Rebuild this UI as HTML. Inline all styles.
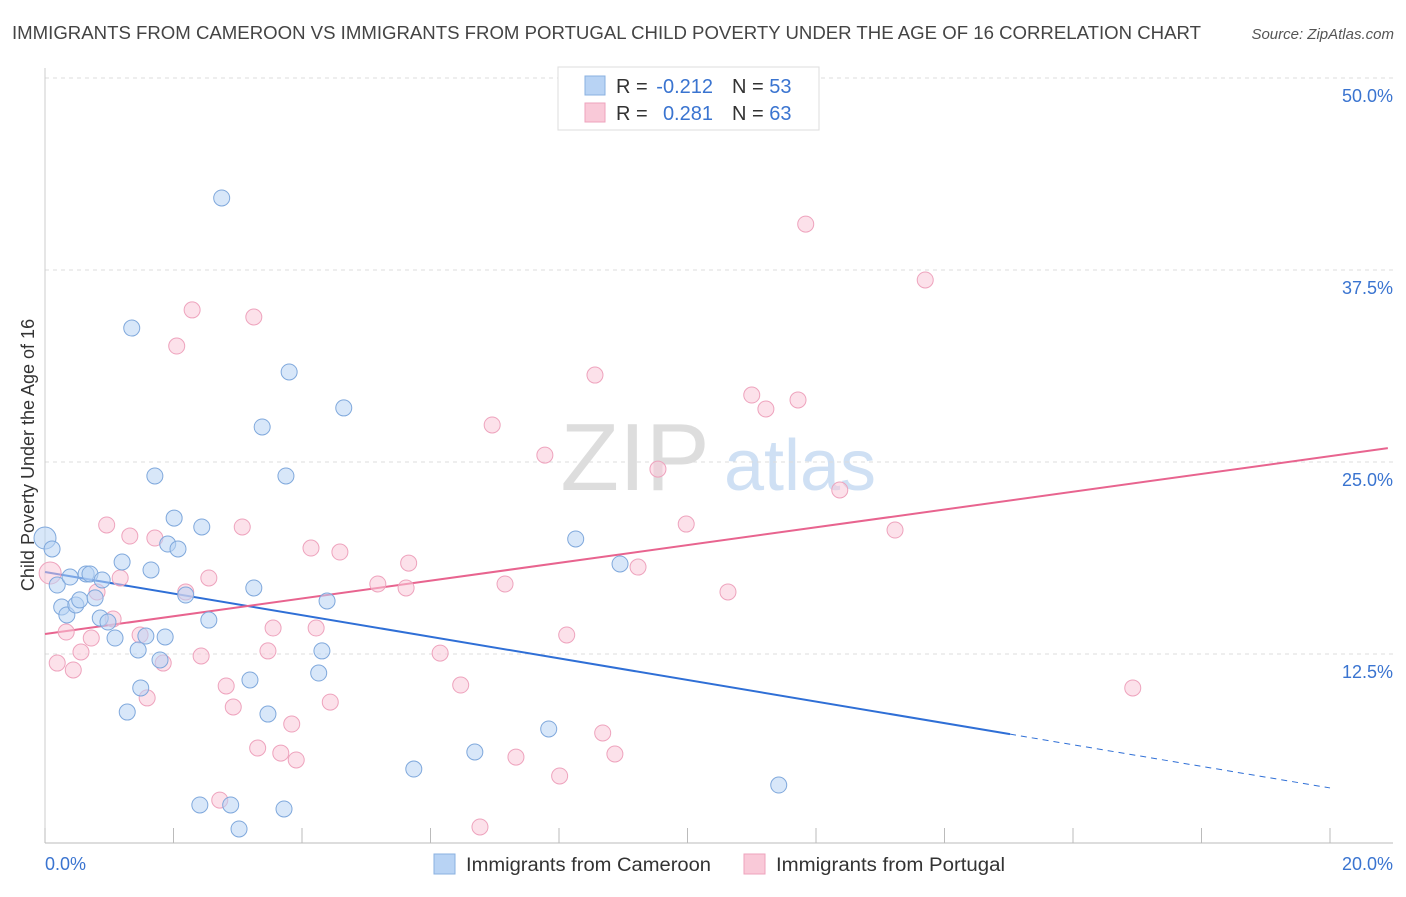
<!DOCTYPE html>
<html><head><meta charset="utf-8"><style>
body{margin:0;background:#fff;font-family:"Liberation Sans",sans-serif;}
svg text{font-family:"Liberation Sans",sans-serif;}
</style></head><body>
<svg id="chart" width="1406" height="892" xmlns="http://www.w3.org/2000/svg">
<text x="12" y="39" font-size="18" fill="#444" textLength="1189" lengthAdjust="spacingAndGlyphs">IMMIGRANTS FROM CAMEROON VS IMMIGRANTS FROM PORTUGAL CHILD POVERTY UNDER THE AGE OF 16 CORRELATION CHART</text>
<text x="1394" y="39" font-size="15" fill="#555" text-anchor="end" font-style="italic">Source: ZipAtlas.com</text>
<text transform="translate(34,455) rotate(-90)" font-size="18" fill="#333" text-anchor="middle">Child Poverty Under the Age of 16</text>
<g><text x="635" y="490" font-size="96" fill="#ddd" font-family="Liberation Serif" text-anchor="middle">ZIP</text><text x="800" y="490" font-size="72" fill="#cfe0f4" text-anchor="middle">atlas</text></g>
<g id="grid"></g><g id="axes"></g><g id="lines"></g><g id="pts"></g>
<g>
<rect x="558" y="67" width="261" height="63" fill="#fff" stroke="#ddd"/>
<rect x="585" y="76" width="20" height="19" fill="#b8d3f4" stroke="#8ab0e0"/>
<rect x="585" y="103" width="20" height="19" fill="#f9c9d8" stroke="#eea3bd"/>
<text x="616" y="93" font-size="20" fill="#333">R =</text>
<text x="713" y="93" font-size="20" fill="#3a74d0" text-anchor="end">-0.212</text>
<text x="732" y="93" font-size="20" fill="#333">N = <tspan fill="#3a74d0">53</tspan></text>
<text x="616" y="120" font-size="20" fill="#333">R =</text>
<text x="713" y="120" font-size="20" fill="#3a74d0" text-anchor="end">0.281</text>
<text x="732" y="120" font-size="20" fill="#333">N = <tspan fill="#3a74d0">63</tspan></text>
</g>
<g>
<rect x="434" y="854" width="21" height="20" fill="#b8d3f4" stroke="#8ab0e0"/>
<text x="466" y="871" font-size="19" fill="#333" textLength="245" lengthAdjust="spacingAndGlyphs">Immigrants from Cameroon</text>
<rect x="744" y="854" width="21" height="20" fill="#f9c9d8" stroke="#eea3bd"/>
<text x="776" y="871" font-size="19" fill="#333" textLength="229" lengthAdjust="spacingAndGlyphs">Immigrants from Portugal</text>
</g>
</svg>
<script>
const yTicks=[12.5,25,37.5,50];
const yTickLabels=["12.5%","25.0%","37.5%","50.0%"];
const xTicks=[0,2,4,6,8,10,12,14,16,18,20];
const blueX=[0,.11,.19,.26,.34,.39,.48,.54,.64,.70,.78,.89,.86,.98,1.09,1.20,1.28,1.35,1.45,1.49,1.57,1.65,1.71,1.79,1.87,1.91,2.01,2.07,2.19,2.41,2.44,2.55,2.75,2.89,3.02,3.19,3.25,3.38,3.47,3.72,3.75,3.80,4.26,4.31,4.39,4.65,5.74,6.69,7.84,8.26,8.95,11.42];
const blueY=[20.05,19.34,16.99,15.56,15.04,17.51,15.69,16.02,17.71,17.71,16.15,17.32,14.84,14.58,13.54,18.49,8.72,33.72,12.76,10.29,13.67,17.97,24.09,12.11,13.61,19.66,21.35,19.34,16.34,2.67,20.77,14.71,42.19,2.67,1.11,10.81,16.80,27.28,8.59,2.41,24.09,30.86,11.26,12.70,15.95,28.52,5.01,6.12,7.62,19.99,18.36,3.97];
const pinkX=[.08,.19,.33,.44,.56,.72,.81,.96,1.06,1.17,1.32,1.48,1.59,1.71,1.84,2.05,2.19,2.29,2.43,2.55,2.72,2.82,2.93,3.07,3.25,3.31,3.47,3.55,3.67,3.84,3.91,4.14,4.22,4.44,4.59,5.18,5.62,5.66,6.15,6.47,6.77,6.96,7.16,7.33,7.78,8.01,8.12,8.56,8.68,8.87,9.23,9.54,9.98,10.63,11.00,11.22,11.72,11.84,12.37,13.23,13.70,16.93];
const pinkY=[17.77,11.91,13.93,11.46,12.63,13.54,16.54,20.90,14.78,17.45,20.18,13.74,9.64,20.05,11.91,32.55,16.54,34.90,12.37,17.45,2.99,10.42,9.05,20.77,34.44,6.38,12.70,14.19,6.05,7.94,5.60,19.40,14.19,9.37,19.14,17.06,16.80,18.42,12.56,10.48,1.24,27.41,17.06,5.79,25.45,4.56,13.74,30.66,7.36,5.99,18.16,24.54,20.96,16.54,29.36,28.45,29.04,40.49,23.18,20.57,36.85,10.29];
const blueTrend=[17.84,-0.703];
const pinkTrend=[13.80,0.579];
const NS="http://www.w3.org/2000/svg";
const X=v=>45+v/20*1285, Y=v=>846-v/12.5*192;
function mk(p,t,a){const e=document.createElementNS(NS,t);for(const k in a)e.setAttribute(k,a[k]);document.getElementById(p).appendChild(e);return e;}
yTicks.forEach((t,i)=>{
 const g=mk('grid','line',{x1:45,x2:1393,y1:Y(t),y2:Y(t),stroke:'#ddd','stroke-dasharray':'4,4'});
 
 
 const l=mk('grid','text',{x:1393,y:Y(t)+24,'font-size':18,fill:'#3a74d0','text-anchor':'end'});l.textContent=yTickLabels[i];
 
 
});
const ax=mk('axes','line',{x1:45,x2:1393,y1:843,y2:843,stroke:'#bbb'});


const ay=mk('axes','line',{x1:45,x2:45,y1:68,y2:843,stroke:'#ccc'});


xTicks.forEach(t=>{const e=mk('axes','line',{x1:X(t),x2:X(t),y1:828,y2:843,stroke:'#bbb'});
 
 });
const xl0=mk('axes','text',{x:45,y:870,'font-size':18,fill:'#3a74d0'});xl0.textContent=xTicks[0].toFixed(1)+'%';


const xl1=mk('axes','text',{x:1393,y:870,'font-size':18,fill:'#3a74d0','text-anchor':'end'});xl1.textContent=xTicks[xTicks.length-1].toFixed(1)+'%';


function pts(xs,ys,f,s,name){xs.forEach((x,i)=>{const r=i===0?11:8;const c=mk('pts','circle',{cx:X(x),cy:Y(ys[i]),r:r,fill:f,'fill-opacity':0.55,stroke:s,'stroke-width':1});
 
 });}
pts(pinkX,pinkY,'#f9c9d8','#eea3bd','portugal-point');
pts(blueX,blueY,'#b8d3f4','#7fa8dc','cameroon-point');
const bt=v=>blueTrend[0]+blueTrend[1]*v, pt=v=>pinkTrend[0]+pinkTrend[1]*v;
const b1=mk('lines','line',{x1:X(0),y1:Y(bt(0)),x2:X(15.02),y2:Y(bt(15.02)),stroke:'#2f6fd6','stroke-width':2});


const b2=mk('lines','line',{x1:X(15.02),y1:Y(bt(15.02)),x2:X(20),y2:Y(bt(20)),stroke:'#2f6fd6','stroke-width':1,'stroke-dasharray':'6,5'});


const p1=mk('lines','line',{x1:X(0),y1:Y(pt(0)),x2:X(20.9),y2:Y(pt(20.9)),stroke:'#e8648f','stroke-width':2});


</script>
</body></html>
